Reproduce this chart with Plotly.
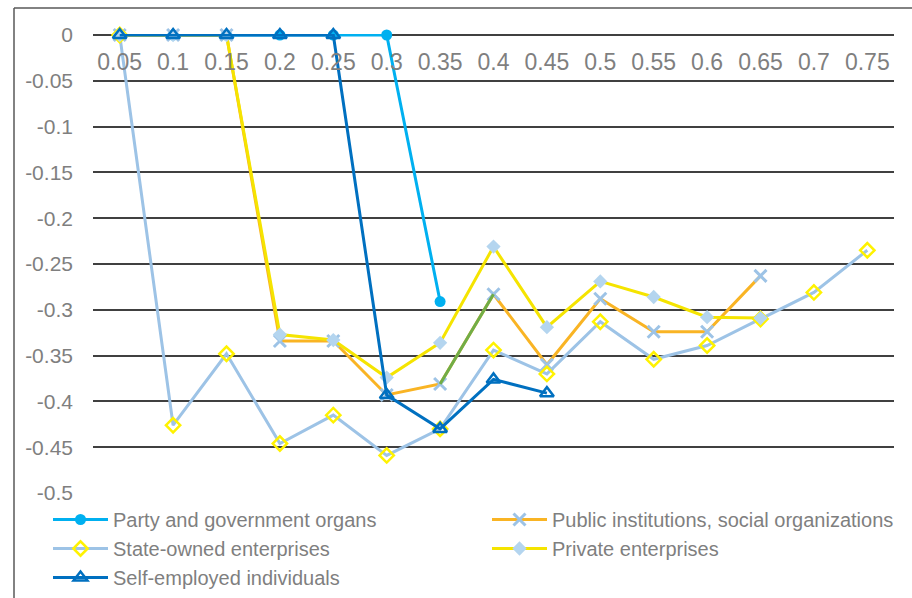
import plotly.graph_objects as go

categories = ["0.05", "0.1", "0.15", "0.2", "0.25", "0.3", "0.35", "0.4",
              "0.45", "0.5", "0.55", "0.6", "0.65", "0.7", "0.75"]

party = [0, 0, 0, 0, 0, 0, -0.291, None, None, None, None, None, None, None, None]
public = [0, 0, 0, -0.334, -0.334, -0.393, -0.381, -0.283, -0.360, -0.288,
          -0.324, -0.324, -0.263, None, None]
state = [0, -0.426, -0.348, -0.446, -0.415, -0.459, -0.430, -0.344, -0.370,
         -0.313, -0.354, -0.339, -0.310, -0.281, -0.235]
private = [0, 0, 0, -0.327, -0.333, -0.374, -0.336, -0.231, -0.319, -0.269,
           -0.286, -0.308, -0.309, None, None]
self_emp = [0, 0, 0, 0, 0, -0.393, -0.430, -0.376, -0.391, None, None, None,
            None, None, None]

names = ["Party and government organs", "Public institutions, social organizations",
         "State-owned enterprises", "Private enterprises", "Self-employed individuals"]

ytickvals = [0, -0.05, -0.1, -0.15, -0.2, -0.25, -0.3, -0.35, -0.4, -0.45, -0.5]

FONT = "Liberation Sans, Arial, sans-serif"
TXT = "#7F7F7F"

fig = go.Figure()

fig.add_trace(go.Scatter(
    x=categories, y=party, name=names[0], mode="lines+markers", legend="legend",
    line=dict(color="#00B0F0", width=3),
    marker=dict(symbol="circle", size=11, color="#00B0F0"),
    cliponaxis=False))

fig.add_trace(go.Scatter(
    x=categories, y=public, name=names[1], mode="lines+markers", legend="legend2",
    line=dict(color="#F9B424", width=3),
    marker=dict(symbol="x-thin", size=12, color="#9DC3E6",
                line=dict(color="#9DC3E6", width=3)),
    cliponaxis=False))

# highlighted segment of the public-institutions series
fig.add_trace(go.Scatter(
    x=categories[6:8], y=public[6:8], mode="lines", showlegend=False,
    line=dict(color="#70AD47", width=3), hoverinfo="skip", cliponaxis=False))

fig.add_trace(go.Scatter(
    x=categories, y=state, name=names[2], mode="lines+markers", legend="legend",
    line=dict(color="#9DC3E6", width=3),
    marker=dict(symbol="diamond-open", size=11, color="#FFF200",
                line=dict(color="#FFF200", width=2.5)),
    cliponaxis=False))

fig.add_trace(go.Scatter(
    x=categories, y=private, name=names[3], mode="lines+markers", legend="legend2",
    line=dict(color="#F5E400", width=3),
    marker=dict(symbol="diamond", size=11, color="#B4D5EF"),
    cliponaxis=False))

fig.add_trace(go.Scatter(
    x=categories, y=self_emp, name=names[4], mode="lines+markers", legend="legend",
    line=dict(color="#0070C0", width=3),
    marker=dict(symbol="triangle-up-open", size=12, color="#0070C0",
                line=dict(color="#0070C0", width=2.5)),
    cliponaxis=False))

L, R, T, B = 93, 18, 34, 104
W, H = 912, 598
pw, ph = W - L - R, H - T - B
pad = 0.5 * 1 / 916  # small value pad so the edge gridlines are drawn

IW = 55           # legend symbol width
TG = IW + 10      # text offset from legend left edge
leg_y = -(500 - (H - B)) / ph

def legend_at(text_x):
    return dict(
        orientation="v", x=(text_x - TG - L) / pw, xanchor="left",
        y=leg_y, yanchor="top", itemwidth=IW,
        font=dict(family=FONT, size=20, color=TXT),
        bgcolor="rgba(0,0,0,0)", borderwidth=0, traceorder="normal",
        tracegroupgap=0)

fig.update_layout(
    width=W, height=H,
    margin=dict(l=L, r=R, t=T, b=B, autoexpand=False),
    paper_bgcolor="white", plot_bgcolor="white",
    font=dict(family=FONT, color=TXT),
    xaxis=dict(
        type="category", categoryorder="array", categoryarray=categories,
        tickvals=categories, ticktext=categories,
        showgrid=False, zeroline=False, showline=False, ticks="",
        anchor="free", position=1.0 - 1 / ph, side="bottom",
        ticklabelstandoff=11,
        tickfont=dict(family=FONT, size=23, color=TXT),
        range=[-0.5, len(categories) - 0.5]),
    yaxis=dict(
        range=[-0.5 - 2 * pad, 0 + 2 * pad], tickvals=ytickvals,
        ticktext=[("%g" % v) for v in ytickvals],
        showgrid=True, gridcolor="#404040", gridwidth=2,
        zeroline=True, zerolinecolor="#404040", zerolinewidth=2,
        showline=False, ticks="", ticklabelstandoff=19,
        tickfont=dict(family=FONT, size=21, color=TXT)),
    legend=legend_at(113),
    legend2=legend_at(552),
    showlegend=True,
)

# outer frame (chart border, partially cropped)
fx = (14 - L) / pw
fy = 1 + (T - 8) / ph
fig.add_shape(type="line", xref="paper", yref="paper", x0=fx, y0=fy, x1=1.2, y1=fy,
              line=dict(color="#595959", width=1.5))
fig.add_shape(type="line", xref="paper", yref="paper", x0=fx, y0=fy, x1=fx, y1=-0.5,
              line=dict(color="#595959", width=1.5))

fig.write_html("out.html")
